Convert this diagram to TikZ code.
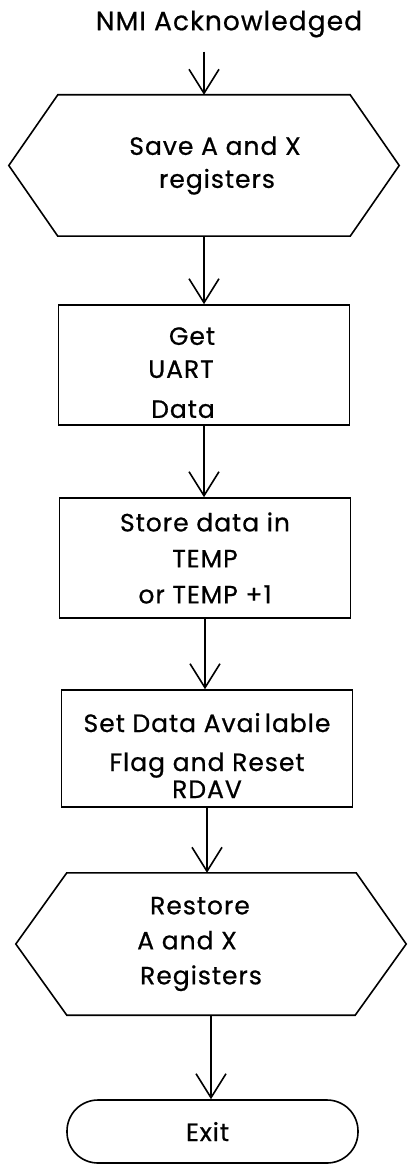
\documentclass[tikz,border=0pt]{standalone}
\usepackage{fontspec}
\setmainfont{Poppins}[FakeBold=0.7, LetterSpace=4]
\usetikzlibrary{arrows.meta}

% one text line, moved sideways from the node centre
\newcommand\shiftln[2]{\hbox to 0pt{\hss\kern#1\kern#1\relax#2\hss}}

\tikzset{
  line/.style={line width=1.6pt},
  flow/.style={line, -{Straight Barb[length=24pt,width=30pt,line width=1.6pt]}},
  txt/.style={font=\fontsize{25}{36}\selectfont, align=center, inner sep=0pt},
  procbox/.style={txt, draw, line, minimum width=291, minimum height=120},
  hexbox/.style={txt, minimum width=390, minimum height=141},
  termbox/.style={txt, draw, line, rounded corners=31pt, minimum width=291, minimum height=63}
}

\begin{document}
\begin{tikzpicture}[x=1pt,y=-1pt]
  \useasboundingbox (0,0) rectangle (407,1166);
  \node[txt, font=\fontsize{26.5}{36}\selectfont] (nmi) at (229,24) {NMI Acknowledged};
  \node[hexbox] (save) at (204,165.5) {\shiftln{11pt}{Save A and X}\\[-3pt]\shiftln{13pt}{registers}};
  \node[procbox] (getuart) at (204,365) {\rule{0pt}{33pt}\shiftln{-12pt}{Get}\\[-3pt]\shiftln{-23pt}{UART}\\[4pt]\shiftln{-21pt}{Data}};
  \node[procbox] (store) at (205,558) {Store data in\\TEMP\\or TEMP +1};
  \node[procbox, minimum height=117] (setflag) at (207,748.5) {\rule{0pt}{33pt}Set Data Avai\,lable\\[3pt]Flag and Reset\\[-9pt]RDAV};
  \node[hexbox, minimum height=142] (restore) at (211,944) {\shiftln{-11pt}{Restore}\\[-1pt]\shiftln{-24pt}{A and X}\\[-1pt]\shiftln{-10pt}{Registers}};
  \node[termbox] (exit) at (212.5,1131.5) {\shiftln{-5pt}{Exit}};
  % hexagon outlines
  \draw[line] ([xshift=49]save.north west) -- ([xshift=-49]save.north east) -- (save.east)
    -- ([xshift=-49]save.south east) -- ([xshift=49]save.south west) -- (save.west) -- cycle;
  \draw[line] ([xshift=51]restore.north west) -- ([xshift=-50]restore.north east) -- (restore.east)
    -- ([xshift=-51]restore.south east) -- ([xshift=51]restore.south west) -- (restore.west) -- cycle;
  % connectors
  \draw[flow] ([yshift=-14]save.north |- nmi.south) -- (save.north);
  \draw[flow] (save.south) -- (save.south |- getuart.north);
  \draw[flow] (getuart.south) -- (getuart.south |- store.north);
  \draw[flow] (store.south) -- (store.south |- setflag.north);
  \draw[flow] (setflag.south) -- (setflag.south |- restore.north);
  \draw[flow] (restore.south) -- (restore.south |- exit.north);
\end{tikzpicture}
\end{document}
